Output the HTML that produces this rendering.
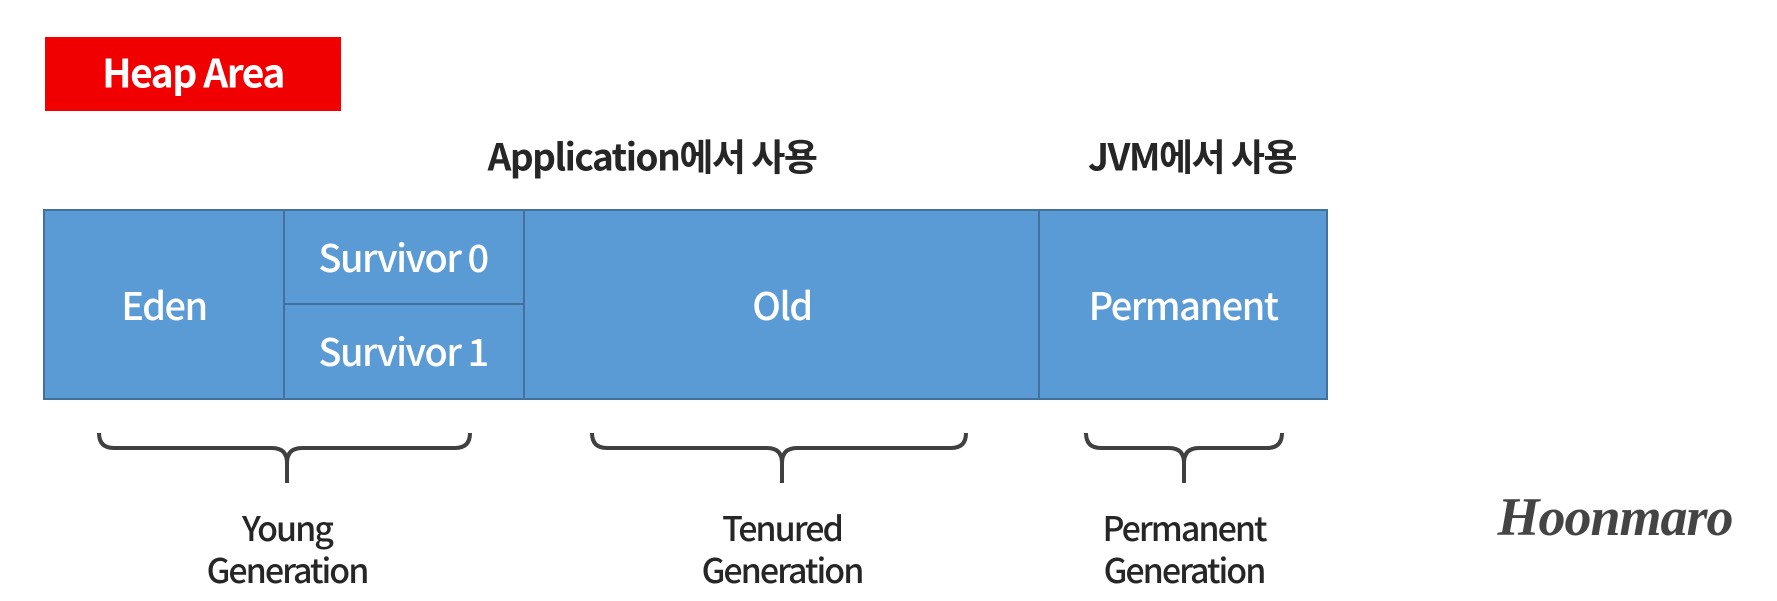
<!DOCTYPE html>
<html><head><meta charset="utf-8"><style>
body{margin:0;width:1777px;height:601px;background:#fff;position:relative;overflow:hidden;font-family:"Noto Sans CJK KR","Liberation Sans",sans-serif;}
.t{position:absolute;transform:translate(-50%,-50%);white-space:nowrap;letter-spacing:-1.5px;line-height:1;}
.w{color:#fff;font-size:38px;font-weight:500;}
.d{color:#262626;font-size:37px;font-weight:700;}
.g{color:#262626;font-size:34px;font-weight:500;letter-spacing:-2px;}
</style></head><body>
<div style="position:absolute;left:45px;top:37px;width:296px;height:74px;background:#f00000"></div>
<div class="t w" style="left:193px;top:72px;font-size:39px;font-weight:700">Heap Area</div>
<div class="t d" style="left:652px;top:155px">Application에서 사용</div>
<div class="t d" style="left:1192px;top:155px">JVM에서 사용</div>
<svg width="1777" height="601" style="position:absolute;left:0;top:0">
<rect x="44" y="210" width="1283" height="189" fill="#5b9bd5" stroke="#41719c" stroke-width="2"/>
<g stroke="#41719c" stroke-width="2">
<line x1="284" y1="210" x2="284" y2="399"/>
<line x1="524" y1="210" x2="524" y2="399"/>
<line x1="1039" y1="210" x2="1039" y2="399"/>
<line x1="284" y1="304" x2="524" y2="304"/>
</g>
<g fill="none" stroke="#404040" stroke-width="4">
<path d="M99 433 Q99 448 114 448 L272 448 Q287 448 287 463 L287 483 M287 463 Q287 448 302 448 L455 448 Q470 448 470 433"/>
<path d="M592 433 Q592 448 607 448 L767 448 Q782 448 782 463 L782 483 M782 463 Q782 448 797 448 L951 448 Q966 448 966 433"/>
<path d="M1086 433 Q1086 448 1101 448 L1169 448 Q1184 448 1184 463 L1184 483 M1184 463 Q1184 448 1199 448 L1267 448 Q1282 448 1282 433"/>
</g>
</svg>
<div class="t w" style="left:164px;top:304px">Eden</div>
<div class="t w" style="left:403px;top:256px">Survivor 0</div>
<div class="t w" style="left:403px;top:350px">Survivor 1</div>
<div class="t w" style="left:782px;top:304px">Old</div>
<div class="t w" style="left:1183px;top:304px">Permanent</div>
<div class="t g" style="left:287px;top:527px">Young</div>
<div class="t g" style="left:287px;top:569px">Generation</div>
<div class="t g" style="left:782px;top:527px">Tenured</div>
<div class="t g" style="left:782px;top:569px">Generation</div>
<div class="t g" style="left:1184px;top:527px">Permanent</div>
<div class="t g" style="left:1184px;top:569px">Generation</div>
<div class="t" style="left:1615px;top:517px;font-family:'Liberation Serif',serif;font-style:italic;font-weight:700;font-size:54px;color:#444;letter-spacing:-1px">Hoonmaro</div>
</body></html>
